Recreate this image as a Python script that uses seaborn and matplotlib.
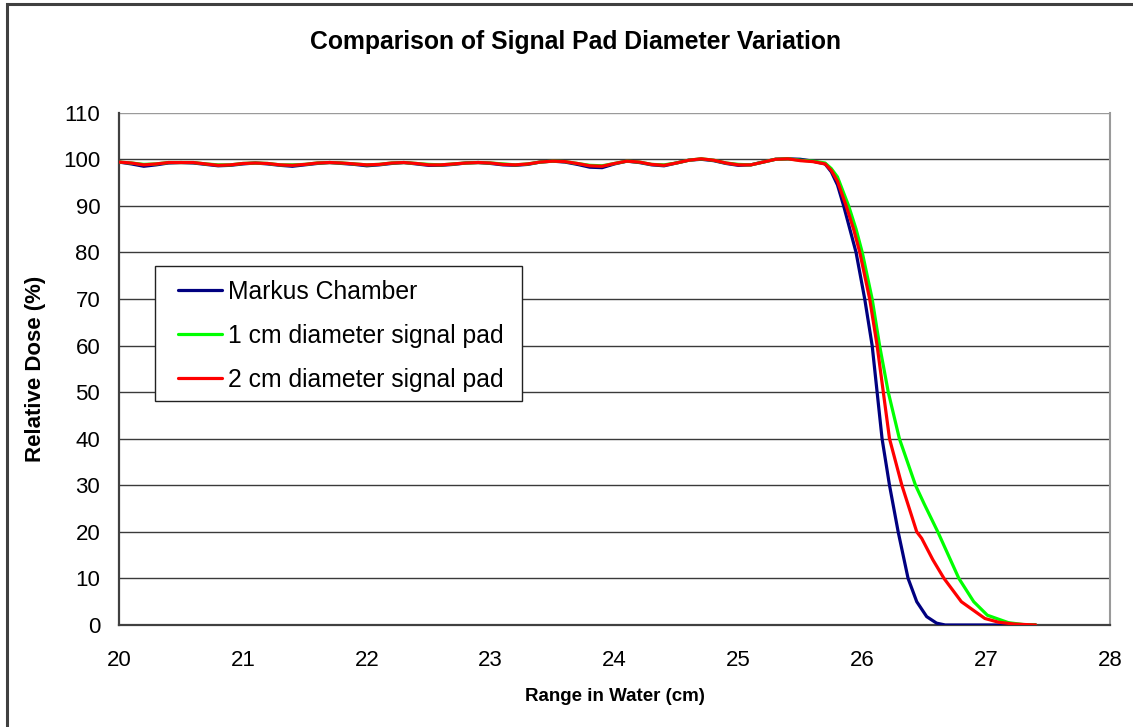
import numpy as np
import pandas as pd
import matplotlib
matplotlib.use("Agg")
import matplotlib.pyplot as plt
import seaborn as sns
from matplotlib.patches import Rectangle

# ---------------- data ----------------
x_flat = [20.0, 20.1, 20.2, 20.3, 20.4, 20.5, 20.6, 20.7, 20.8, 20.9,
          21.0, 21.1, 21.2, 21.3, 21.4, 21.5, 21.6, 21.7, 21.8, 21.9,
          22.0, 22.1, 22.2, 22.3, 22.4, 22.5, 22.6, 22.7, 22.8, 22.9,
          23.0, 23.1, 23.2, 23.3, 23.4, 23.5, 23.6, 23.7, 23.8, 23.9,
          24.0, 24.1, 24.2, 24.3, 24.4, 24.5, 24.6, 24.7, 24.8, 24.9,
          25.0, 25.1, 25.2, 25.3, 25.4, 25.5, 25.6]

red_flat = [99.4, 99.2, 98.8, 99.0, 99.3, 99.3, 99.3, 99.0, 98.7, 98.8,
            99.1, 99.2, 99.1, 98.8, 98.7, 98.9, 99.2, 99.3, 99.2, 99.0,
            98.8, 98.9, 99.2, 99.3, 99.1, 98.8, 98.8, 99.0, 99.2, 99.3,
            99.2, 98.9, 98.8, 99.0, 99.4, 99.6, 99.5, 99.1, 98.6, 98.5,
            99.1, 99.6, 99.4, 98.9, 98.7, 99.2, 99.8, 100.1, 99.8, 99.2,
            98.8, 98.8, 99.4, 100.0, 100.1, 99.7, 99.5]

green_flat = [99.4, 99.2, 98.9, 99.0, 99.3, 99.3, 99.3, 99.0, 98.8, 98.8,
              99.1, 99.2, 99.1, 98.8, 98.8, 98.9, 99.2, 99.3, 99.2, 99.0,
              98.8, 98.9, 99.2, 99.3, 99.1, 98.9, 98.8, 99.0, 99.2, 99.3,
              99.2, 99.0, 98.8, 99.0, 99.4, 99.6, 99.5, 99.1, 98.7, 98.6,
              99.1, 99.6, 99.4, 98.9, 98.8, 99.2, 99.8, 100.1, 99.8, 99.2,
              98.9, 98.8, 99.4, 100.0, 100.1, 99.8, 99.6]

blue_flat = [99.4, 99.0, 98.5, 98.8, 99.2, 99.3, 99.2, 98.9, 98.6, 98.7,
             99.0, 99.2, 99.0, 98.7, 98.5, 98.8, 99.1, 99.3, 99.1, 98.9,
             98.6, 98.8, 99.1, 99.3, 99.0, 98.7, 98.7, 98.9, 99.2, 99.3,
             99.1, 98.8, 98.7, 98.9, 99.4, 99.6, 99.4, 98.9, 98.3, 98.2,
             99.0, 99.6, 99.3, 98.8, 98.6, 99.2, 99.8, 100.0, 99.7, 99.1,
             98.7, 98.8, 99.4, 100.0, 100.1, 100.0, 99.6]

x_blue_fall = [25.7, 25.75, 25.8, 25.85, 25.9, 25.95, 26.02, 26.08, 26.12,
               26.16, 26.22, 26.29, 26.37, 26.44, 26.52, 26.6, 26.67, 26.8,
               27.0, 27.2, 27.4]
y_blue_fall = [99.0, 97.3, 94.5, 90.0, 85.0, 80.0, 70.0, 60.0, 50.0,
               40.0, 30.0, 20.0, 10.0, 5.0, 1.8, 0.4, 0.0, 0.0,
               0.0, 0.0, 0.0]

x_green_fall = [25.7, 25.75, 25.8, 25.89, 25.95, 26.0, 26.08, 26.14, 26.21,
                26.3, 26.43, 26.5, 26.61, 26.78, 26.9, 27.01, 27.18, 27.3, 27.4]
y_green_fall = [99.2, 98.0, 96.2, 90.0, 85.0, 80.0, 70.0, 60.0, 50.0,
                40.0, 30.0, 26.0, 20.0, 10.0, 5.0, 2.1, 0.5, 0.1, 0.0]

x_red_fall = [25.7, 25.75, 25.8, 25.87, 25.93, 25.98, 26.06, 26.12, 26.17,
              26.22, 26.32, 26.44, 26.48, 26.57, 26.66, 26.8, 26.99, 27.1,
              27.23, 27.4]
y_red_fall = [99.0, 97.6, 95.3, 90.0, 85.0, 80.0, 70.0, 60.0, 50.0,
              40.0, 30.0, 20.0, 18.6, 14.0, 10.0, 5.0, 1.4, 0.6,
              0.2, 0.0]

series_names = ["Markus Chamber", "1 cm diameter signal pad", "2 cm diameter signal pad"]
series_colors = ["#000080", "#00FF00", "#FF0000"]

x_ticks = [20, 21, 22, 23, 24, 25, 26, 27, 28]
y_ticks = [0, 10, 20, 30, 40, 50, 60, 70, 80, 90, 100, 110]

title = "Comparison of Signal Pad Diameter Variation"
x_label = "Range in Water (cm)"
y_label = "Relative Dose (%)"

# ---------------- build table ----------------
frames = []
for name, xs, ys in [
    (series_names[0], x_flat + x_blue_fall, blue_flat + y_blue_fall),
    (series_names[1], x_flat + x_green_fall, green_flat + y_green_fall),
    (series_names[2], x_flat + x_red_fall, red_flat + y_red_fall),
]:
    frames.append(pd.DataFrame({"x": xs, "y": ys, "series": name}))
df = pd.concat(frames, ignore_index=True)

# ---------------- plot ----------------
sns.set_style("white")
plt.rcParams["font.family"] = ["Liberation Sans", "DejaVu Sans"]
plt.rcParams["text.color"] = "black"
plt.rcParams["axes.labelcolor"] = "black"
plt.rcParams["xtick.color"] = "black"
plt.rcParams["ytick.color"] = "black"

W, H = 1133, 727
fig = plt.figure(figsize=(W / 100, H / 100), dpi=100)
L, R, T, B = 119, 1110, 112.7, 625
ax = fig.add_axes([L / W, 1 - B / H, (R - L) / W, (B - T) / H])

# outer frame
fig.patches.append(Rectangle((7 / W, -0.05), 1.2, (H - 4) / H + 0.05,
                             transform=fig.transFigure, fill=False,
                             edgecolor="#404040", linewidth=2.2, zorder=0))

for yv in y_ticks[1:]:
    ax.axhline(yv, color="#3a3a3a" if yv < 110 else "#9a9a9a", lw=1.0, zorder=1)

sns.lineplot(data=df, x="x", y="y", hue="series", hue_order=series_names,
             palette=series_colors, estimator=None, sort=False, lw=2.3,
             ax=ax, zorder=3)

ax.set_xlim(20, 28)
ax.set_ylim(0, 110)
ax.set_xticks(x_ticks)
ax.set_yticks(y_ticks)
ax.tick_params(axis="both", direction="out", length=6, width=1.2,
               color="#333333", labelcolor="black", labelsize=16, pad=7.5)
ax.tick_params(axis="x", pad=12)
for side in ["left", "bottom"]:
    ax.spines[side].set_color("#404040")
    ax.spines[side].set_linewidth(1.6)
ax.spines["top"].set_visible(False)
ax.spines["right"].set_color("#9a9a9a")
ax.spines["right"].set_linewidth(1.5)

ax.set_xlabel(x_label, fontsize=13.5, fontweight="bold", labelpad=12, color="black")
ax.set_ylabel(y_label, fontsize=16, fontweight="bold", labelpad=12, color="black")
fig.text(575 / W, 1 - 42 / H, title, ha="center", va="center",
         fontsize=17.8, fontweight="bold", color="black")

# legend box drawn separately (in the axes, above the lines), entries without frame
box = Rectangle((155 / W, 1 - 401 / H), (522 - 155) / W, (401 - 266) / H,
                transform=fig.transFigure, facecolor="white",
                edgecolor="#222222", linewidth=1.0, zorder=5, clip_on=False)
ax.add_patch(box)
leg = ax.legend(loc="upper left", bbox_to_anchor=(178 / W, 1 - 280 / H),
                bbox_transform=fig.transFigure,
                frameon=False, fontsize=17.8, handlelength=1.78,
                handletextpad=0.24, labelspacing=0.8, borderpad=0,
                borderaxespad=0, title=None)
leg.set_zorder(6)
for t in leg.get_texts():
    t.set_color("black")
for ln in leg.get_lines():
    ln.set_linewidth(2.3)

fig.savefig("out.png", dpi=100, facecolor="white")
